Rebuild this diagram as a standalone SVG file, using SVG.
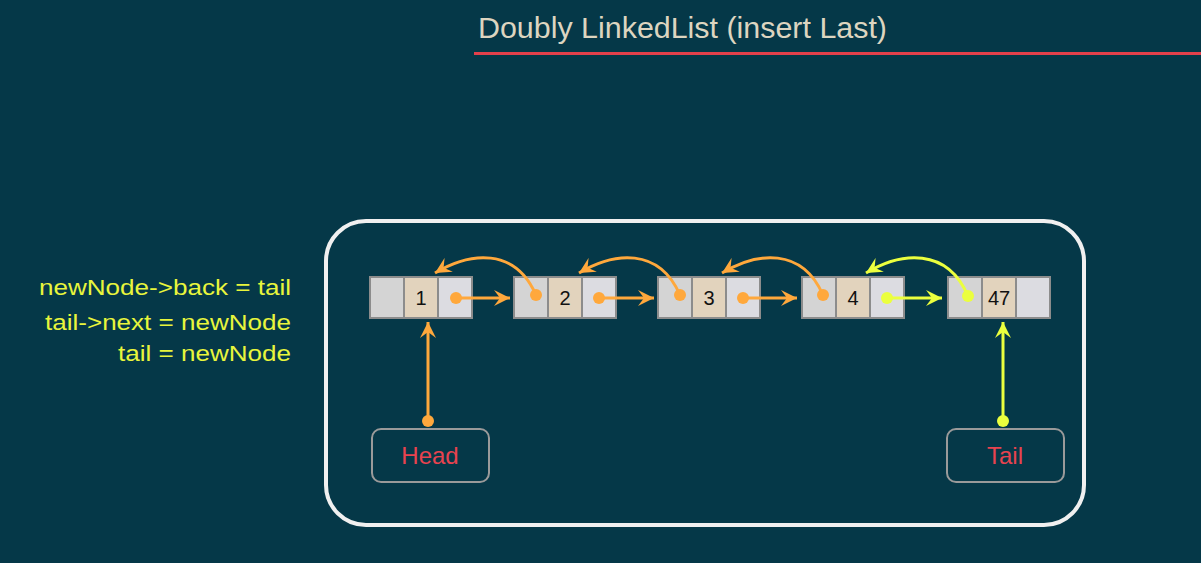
<svg xmlns="http://www.w3.org/2000/svg" width="1201" height="563" viewBox="0 0 1201 563">
<style>
text{font-family:"Liberation Sans",Arial,sans-serif}
.c1{fill:#d4d4d4;stroke:#8c8c8c;stroke-width:2}
.c2{fill:#e2d3bd;stroke:#8c8c8c;stroke-width:2}
.c3{fill:#dcdce1;stroke:#8c8c8c;stroke-width:2}
.v{font-size:20px;fill:#111;text-anchor:middle}
.o{stroke:#ffa83c;stroke-width:3;fill:none}
.y{stroke:#ebff3e;stroke-width:3;fill:none}
.od{fill:#ffa83c}
.yd{fill:#ebff3e}
.code{font-size:22.5px;fill:#e8f53c}
.ptr{fill:none;stroke:#9a9a9a;stroke-width:2}
.pt{font-size:24px;fill:#e8434f;text-anchor:middle}
</style>
<defs>
<marker id="ao" markerUnits="userSpaceOnUse" markerWidth="18" markerHeight="16" refX="16" refY="8" orient="auto"><path d="M0,0 L16,8 L0,16 L6,8 Z" fill="#ffa83c"/></marker>
<marker id="ay" markerUnits="userSpaceOnUse" markerWidth="18" markerHeight="16" refX="16" refY="8" orient="auto"><path d="M0,0 L16,8 L0,16 L6,8 Z" fill="#ebff3e"/></marker>
</defs>
<rect width="1201" height="563" fill="#053848"/>
<g id="title">
<text x="478" y="38" font-size="29" fill="#ddd5c0" textLength="409" lengthAdjust="spacingAndGlyphs">Doubly LinkedList (insert Last)</text>
<rect x="474" y="52" width="727" height="3" fill="#e3404b"/>
</g>
<g id="code">
<text class="code" x="39" y="295" textLength="252" lengthAdjust="spacingAndGlyphs">newNode-&gt;back = tail</text>
<text class="code" x="45" y="330" textLength="246" lengthAdjust="spacingAndGlyphs">tail-&gt;next = newNode</text>
<text class="code" x="118" y="361" textLength="173" lengthAdjust="spacingAndGlyphs">tail = newNode</text>
</g>
<g id="frame"><rect x="326" y="221" width="758" height="304" rx="40" fill="none" stroke="#f0f0f0" stroke-width="4"/></g>
<g id="node1"><rect class="c1" x="370" y="277" width="34" height="41"/><rect class="c2" x="404" y="277" width="34" height="41"/><rect class="c3" x="438" y="277" width="34" height="41"/><text class="v" x="421" y="305">1</text></g>
<g id="node2"><rect class="c1" x="514" y="277" width="34" height="41"/><rect class="c2" x="548" y="277" width="34" height="41"/><rect class="c3" x="582" y="277" width="34" height="41"/><text class="v" x="565" y="305">2</text></g>
<g id="node3"><rect class="c1" x="658" y="277" width="34" height="41"/><rect class="c2" x="692" y="277" width="34" height="41"/><rect class="c3" x="726" y="277" width="34" height="41"/><text class="v" x="709" y="305">3</text></g>
<g id="node4"><rect class="c1" x="802" y="277" width="34" height="41"/><rect class="c2" x="836" y="277" width="34" height="41"/><rect class="c3" x="870" y="277" width="34" height="41"/><text class="v" x="853" y="305">4</text></g>
<g id="node47"><rect class="c1" x="948" y="277" width="34" height="41"/><rect class="c2" x="982" y="277" width="34" height="41"/><rect class="c3" x="1016" y="277" width="34" height="41"/><text class="v" x="999" y="305">47</text></g>
<g id="head"><rect class="ptr" x="372" y="429" width="117" height="53" rx="9"/><text class="pt" x="430" y="464">Head</text></g>
<g id="tail"><rect class="ptr" x="947" y="429" width="117" height="53" rx="9"/><text class="pt" x="1005" y="464">Tail</text></g>
<g id="connectors">
<path class="o" d="M456,298 L510,298" marker-end="url(#ao)"/><circle class="od" cx="456" cy="298" r="6"/>
<path class="o" d="M599,298 L654,298" marker-end="url(#ao)"/><circle class="od" cx="599" cy="298" r="6"/>
<path class="o" d="M743,298 L797,298" marker-end="url(#ao)"/><circle class="od" cx="743" cy="298" r="6"/>
<path class="y" d="M887,298 L942,298" marker-end="url(#ay)"/><circle class="yd" cx="887" cy="298" r="6"/>
<path class="o" d="M536,295 C515,247 470,252 435,273" marker-end="url(#ao)"/><circle class="od" cx="536" cy="295" r="6"/>
<path class="o" d="M680,295 C659,247 614,252 579,273" marker-end="url(#ao)"/><circle class="od" cx="680" cy="295" r="6"/>
<path class="o" d="M823,295 C802,247 757,252 722,273" marker-end="url(#ao)"/><circle class="od" cx="823" cy="295" r="6"/>
<path class="y" d="M968,296 C947,247 901,252 866,273" marker-end="url(#ay)"/><circle class="yd" cx="968" cy="296" r="6"/>
<path class="o" d="M428,421 L428,322" marker-end="url(#ao)"/><circle class="od" cx="428" cy="421" r="6"/>
<path class="y" d="M1003,421 L1003,322" marker-end="url(#ay)"/><circle class="yd" cx="1003" cy="421" r="6"/>
</g>
</svg>
